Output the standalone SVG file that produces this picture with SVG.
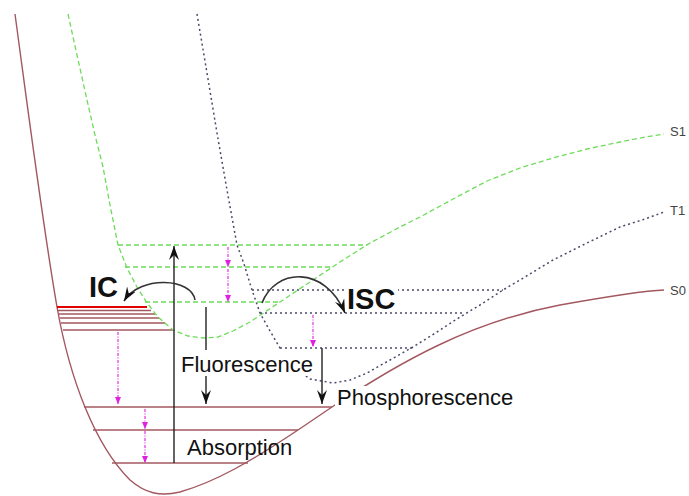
<svg xmlns="http://www.w3.org/2000/svg" width="689" height="496" viewBox="0 0 689 496">
<style>
.s0{fill:none;stroke:#a3575f;stroke-width:1.4}
.s0l{fill:none;stroke:#a3575f;stroke-width:1.6}
.red{fill:none;stroke:#e00000;stroke-width:2}
.s1{fill:none;stroke:#6edc5a;stroke-width:1.3;stroke-dasharray:5 3}
.t1{fill:none;stroke:#4a4a6a;stroke-width:1.5;stroke-dasharray:2 3}
.mg{fill:none;stroke:#e020e0;stroke-width:1.1;stroke-dasharray:3 1.5 1 1.5}
.ar{fill:none;stroke:#222;stroke-width:1.4}
.arc{fill:none;stroke:#333;stroke-width:1.6}
.lbl{font-family:"Liberation Sans",Arial,sans-serif;font-size:22px;fill:#111}
.big{font-family:"Liberation Sans",Arial,sans-serif;font-size:29px;font-weight:bold;fill:#111}
.st{font-family:"Liberation Sans",Arial,sans-serif;font-size:13px;fill:#444}
</style>
<defs>
<marker id="ah" markerUnits="userSpaceOnUse" markerWidth="16" markerHeight="10" refX="14" refY="5" orient="auto" viewBox="0 0 16 10"><path d="M0,0 L14,5 L0,10 L5,5 Z" fill="#111"/></marker>
<marker id="mh" markerUnits="userSpaceOnUse" markerWidth="7" markerHeight="6" refX="7" refY="3" orient="auto" viewBox="0 0 7 6"><path d="M0,0 L7,3 L0,6 Z" fill="#e020e0"/></marker>
</defs>
<rect width="689" height="496" fill="#fff"/>
<g id="S0-curve">
<path class="s0" d="M15,14 C28,110 42,220 57,307 C70,380 95,445 130,480 C145,493 160,497 180,492 C215,482 250,462 298,430 L332,407 C400,362 470,322 560,305 C605,297 640,291 664,290"/>
</g>
<g id="S0-levels">
<line class="red" x1="57" y1="307" x2="147" y2="307"/>
<line class="s0l" x1="58" y1="310.5" x2="151" y2="310.5"/>
<line class="s0l" x1="59" y1="314" x2="155" y2="314"/>
<line class="s0l" x1="60" y1="318" x2="159" y2="318"/>
<line class="s0l" x1="61" y1="323" x2="165" y2="323"/>
<line class="s0l" x1="63" y1="330" x2="173" y2="330"/>
<line class="s0l" x1="84" y1="407" x2="332" y2="407"/>
<line class="s0l" x1="93" y1="430" x2="298" y2="430"/>
<line class="s0l" x1="112" y1="463" x2="248" y2="463"/>
</g>
<g id="S1-curve">
<path class="s1" d="M68,14 L77,55 L87,100 L95,135 L103,167 L110,205 L118,245 L127,268 L137,287 L147,303 L158,317 L173,330 L188,336 L203,338 L218,337 L233,331 L250,322 L265,312 L280,302 L310,282 L340,262 L370,243 L400,227 L420,217 L455,198 L487,181 L520,168 L553,158 L587,149 L620,142 L645,137 L664,134"/>
</g>
<g id="S1-levels">
<line class="s1" x1="118" y1="245" x2="367" y2="245"/>
<line class="s1" x1="125" y1="267" x2="332" y2="267"/>
<line class="s1" x1="145" y1="302" x2="280" y2="302"/>
</g>
<g id="T1-curve">
<path class="t1" d="M197,14 L207,73 L217,133 L227,190 L237,245 L244,264 L252,290 L260,313 L270,331 L280,348 L295,368 L310,379 L333,383 L350,380 L367,373 L390,360 L413,347 L437,332 L460,317 L480,305 L503,290 L520,280 L553,260 L587,243 L620,227 L645,219 L664,212"/>
</g>
<g id="T1-levels">
<line class="t1" x1="252" y1="290" x2="503" y2="290"/>
<line class="t1" x1="260" y1="313" x2="462" y2="313"/>
<line class="t1" x1="280" y1="348" x2="414" y2="348"/>
</g>
<g id="state-labels">
<text class="st" x="670" y="136">S1</text>
<text class="st" x="670" y="215">T1</text>
<text class="st" x="670" y="295">S0</text>
</g>
<g id="connectors">
<line class="mg" x1="228" y1="247" x2="228" y2="267" marker-end="url(#mh)"/>
<line class="mg" x1="228" y1="269" x2="228" y2="302" marker-end="url(#mh)"/>
<line class="mg" x1="313" y1="315" x2="313" y2="347" marker-end="url(#mh)"/>
<line class="mg" x1="118" y1="332" x2="118" y2="404" marker-end="url(#mh)"/>
<line class="mg" x1="145" y1="409" x2="145" y2="429" marker-end="url(#mh)"/>
<line class="mg" x1="145" y1="431" x2="145" y2="463" marker-end="url(#mh)"/>
<line class="ar" x1="174" y1="463" x2="174" y2="246" marker-end="url(#ah)"/>
<line class="ar" x1="206" y1="307" x2="206" y2="404" marker-end="url(#ah)" stroke="#555"/>
<line class="ar" x1="322" y1="348" x2="322" y2="404" marker-end="url(#ah)"/>
<path class="arc" d="M195,300 C192,278 140,275 124,301" marker-end="url(#ah)"/>
<path class="arc" d="M262,303 C275,268 325,265 345,313" marker-end="url(#ah)"/>
</g>
<g id="label-IC"><text class="big" x="89" y="297">IC</text></g>
<g id="label-ISC">
<rect x="346" y="284" width="52" height="25" fill="#fff"/>
<text class="big" x="347" y="309">ISC</text>
</g>
<g id="label-fluorescence">
<rect x="180" y="350" width="134" height="26" fill="#fff"/>
<text class="lbl" x="181" y="372">Fluorescence</text>
</g>
<g id="label-phosphorescence">
<rect x="335" y="386" width="180" height="25" fill="#fff"/>
<text class="lbl" x="337" y="405">Phosphorescence</text>
</g>
<g id="label-absorption">
<text class="lbl" x="187" y="455">Absorption</text>
</g>
</svg>
